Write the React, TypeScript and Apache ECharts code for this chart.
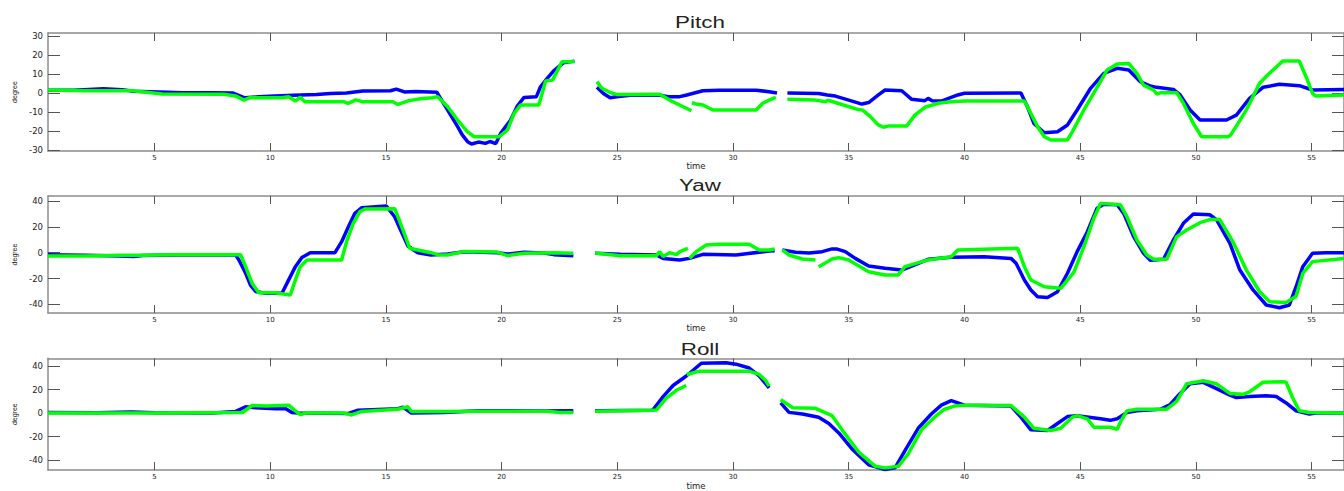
import { useEffect, useRef } from "react";
import * as echarts from "echarts";

type Pt = [number, number | null];

// Tick positions
const timeTicks = [5, 10, 15, 20, 25, 30, 35, 40, 45, 50, 55];
const pitchTicks = [-30, -20, -10, 0, 10, 20, 30];
const yawTicks = [-40, -20, 0, 20, 40];
const rollTicks = [-40, -20, 0, 20, 40];

const panelTitles = ["Pitch", "Yaw", "Roll"];
const timeRange: [number, number] = [0.4, 56.4];
const pitchRange: [number, number] = [-30.5, 31.6];
const yawRange: [number, number] = [-46.6, 43.8];
const rollRange: [number, number] = [-48.7, 46.8];

// Pitch angle (degree) over time, two sensors; null breaks the trace
const pitchBlue: Pt[] = [
  [0.4, 1.5], [1.5, 1.5], [2.8, 2.2], [3.6, 1.8], [4.1, 1], [5.2, 0.6], [6.2, 0.1], [7.5, 0.2], [8.4, 0],
  [8.9, -2.5], [9.5, -2], [10.2, -1.6], [11, -1.2], [12, -0.8], [12.6, -0.2], [13.3, 0], [14, 1.1],
  [15.2, 1.2], [15.45, 2.1], [15.8, 0.6], [16.3, 0.8], [17.2, 0.4], [17.67, -9], [18.1, -17.7],
  [18.3, -22], [18.53, -25.6], [18.7, -26.8], [19, -25.8], [19.3, -26.5], [19.5, -25.5], [19.75, -26.6],
  [19.96, -21.2], [20.39, -14.2], [20.68, -6.8], [20.97, -2.3], [21.5, -2], [21.68, 3.3], [21.97, 7.7],
  [22.25, 11.7], [22.68, 16], [23.15, 16.8], [23.5, null],
  [24.12, 3], [24.4, -0.2], [24.69, -2.5], [24.97, -1.9], [25.55, -1.2], [26.83, -1.1], [27.2, -1.9],
  [27.7, -1.9], [28.0, -1.0], [28.7, 1.2], [29.4, 1.5], [31, 1.5], [31.56, 0.7], [31.9, 0], [32.1, null],
  [32.35, 0], [33.7, -0.2], [34.07, -1], [34.42, -1.6], [35, -3.7], [35.57, -5.8], [35.86, -5],
  [36.28, -1], [36.57, 1.6], [37.29, 1.2], [37.72, -3.3], [38.29, -4], [38.43, -2.8], [38.6, -4],
  [39, -4.2], [39.71, -1], [40, -0.1], [42.44, 0], [42.72, -7.2], [43, -16], [43.45, -20.9],
  [44.02, -20.4], [44.45, -16.8], [44.87, -8.9], [45.45, 2.5], [46.02, 10.4], [46.6, 13], [47.1, 12.1],
  [47.6, 6], [48.03, 3.7], [48.31, 3], [49.03, 1.9], [49.32, -1], [49.75, -8.9], [50.18, -14.2],
  [51.32, -14.2], [51.75, -11.6], [52.32, -2.8], [52.9, 3], [53.61, 4.6], [54.47, 3.9], [55.04, 1.6],
  [56.4, 1.9],
];

const pitchGreen: Pt[] = [
  [0.4, 1.6], [2, 1.2], [4.06, 1.2], [5.35, -0.5], [8, -0.6], [8.5, -1.5], [8.87, -3.7], [9.1, -2.5],
  [10.5, -2.5], [10.8, -2], [11.09, -4.2], [11.3, -2.2], [11.5, -4.6], [13.2, -4.6], [13.37, -5.4],
  [13.7, -3.6], [14, -4.6], [15.3, -4.6], [15.52, -6], [16, -4], [16.5, -3], [17, -2.5], [17.24, -2],
  [17.67, -7.2], [18.1, -14.2], [18.53, -20.4], [18.82, -23], [19.89, -23], [20.25, -19.5],
  [20.54, -10.7], [20.82, -6.3], [21.61, -6.3], [21.9, 6.3], [22.2, 6.8], [22.61, 16.5], [23.15, 16.5],
  [23.5, null],
  [24.12, 6], [24.33, 2.5], [24.69, 0.3], [24.97, -0.7], [26.83, -0.6], [27.26, -3.7], [27.69, -6.3],
  [28.2, -9.3], [28.21, null], [28.22, -5.1], [28.41, -5.8], [28.7, -6.3], [29.13, -8.9], [31, -8.9],
  [31.28, -5.4], [31.56, -3.7], [31.85, -2.3], [32.1, null],
  [32.35, -3.3], [33.5, -3.6], [34.0, -4.6], [34.1, -3.8], [34.42, -5], [35.35, -8.5], [35.6, -9],
  [35.9, -12], [36.28, -16.8], [36.5, -18], [36.7, -17.4], [37.5, -17.4], [37.86, -11.6], [38.29, -7.5],
  [38.86, -5.4], [39.43, -4.6], [40, -4.2], [42.59, -4.2], [42.87, -10.7], [43.16, -17.7], [43.45, -23],
  [43.73, -24.7], [44.45, -24.7], [44.66, -20.4], [45.16, -8.9], [45.73, 3], [46.16, 12.1], [46.6, 15.3],
  [47.1, 15.6], [47.45, 10.4], [47.74, 4.2], [48.17, 1.6], [48.31, -0.5], [48.5, 0.2], [49.17, 0.2],
  [49.46, -5.4], [49.89, -16], [50.25, -23], [51.4, -23], [51.5, -22], [51.75, -17.4], [52.18, -8.9],
  [52.75, 5.1], [53.18, 10.4], [53.75, 16.8], [54.47, 16.8], [54.76, 8.6], [55.04, -0.2], [55.18, -1.6],
  [56.4, -1],
];

// Yaw angle (degree)
const yawBlue: Pt[] = [
  [0.4, -1.5], [2, -2], [3.5, -2.5], [4.1, -3], [4.5, -2.2], [6, -1.8], [7.5, -1.5], [8.51, -1.8],
  [8.65, -5.6], [8.94, -15.9], [9.15, -25], [9.37, -30], [9.8, -31.4], [10.51, -31.4], [10.8, -21],
  [11.09, -10.8], [11.37, -3.8], [11.73, 0], [12.8, 0], [13.09, 8.5], [13.38, 20], [13.66, 30.4],
  [13.95, 34.7], [15.02, 36], [15.38, 27.8], [15.67, 16.2], [15.95, 5.2], [16.38, 0], [16.95, -1.8],
  [17.67, -1], [18.39, 0.8], [19.82, 0], [20.25, -1], [20.97, 0.3], [21.83, -0.3], [22.25, -1.5],
  [23.1, -2.3], [23.5, null],
  [24.04, -0.5], [25.12, -1.2], [26.69, -1.8], [26.98, -4.4], [27.69, -5.6], [28.12, -4.4], [28.7, -1.3],
  [30.13, -1.8], [31.56, 1.3], [31.8, 1.5], [32.0, null],
  [32.13, 2.1], [32.7, 0.3], [33.28, -0.3], [33.85, 0.8], [34.28, 2.9], [34.5, 2.8], [34.85, 0.8],
  [35.28, -4.4], [35.86, -10.3], [36.57, -12.1], [37.29, -13.4], [37.72, -10.3], [38.43, -5.1],
  [39.43, -3.6], [40.85, -3.1], [42.01, -4.4], [42.23, -8.2], [42.59, -21.1], [42.87, -28.8],
  [43.16, -34], [43.59, -34.6], [44.02, -30.1], [44.45, -15.9], [44.87, 0.8], [45.31, 16.2],
  [45.73, 34.3], [46.02, 37.4], [46.6, 37], [46.88, 30.4], [47.31, 12.4], [47.74, -0.5], [48.03, -5.9],
  [48.6, -5.1], [49.03, 9.8], [49.46, 22.7], [49.89, 29.9], [50.6, 29.3], [50.89, 25.6], [51.47, 7.2],
  [51.9, -13.4], [52.47, -28.8], [53.04, -40.4], [53.61, -42.5], [54.04, -40.4], [54.33, -26.3],
  [54.62, -10.8], [55.04, -0.5], [55.61, 0], [56.4, 0],
];

const yawGreen: Pt[] = [
  [0.4, -2.5], [2, -2.5], [3.5, -2], [4.5, -2], [6, -1.5], [8.72, -1.5], [8.94, -10.8], [9.22, -23.7],
  [9.51, -30.9], [10.2, -31], [10.87, -32.7], [11.09, -21], [11.3, -10.8], [11.59, -5.6], [13.09, -5.6],
  [13.3, 8.5], [13.59, 22.7], [13.88, 31.7], [14.09, 33.7], [15.38, 34], [15.52, 27.8], [15.74, 17.5],
  [16.03, 3.4], [16.38, 2.1], [16.95, 0], [17.24, -1.5], [17.67, -1.8], [18.39, 1], [19.82, 0.5],
  [20.25, -2.3], [20.97, -0.5], [22.25, 0], [23.1, -0.5], [23.5, null],
  [24.04, -0.3], [25.12, -2.3], [26.69, -2.3], [26.83, 0.8], [26.98, -3], [27.26, 0], [27.55, -1.5],
  [27.7, 0.8], [28.05, 3.4], [28.08, null], [28.12, -4.4], [28.41, 0.8], [28.84, 5.9], [29.41, 6.6],
  [30.7, 6.6], [31.13, 2.1], [31.56, 2.1], [31.8, 2.8], [32.0, null],
  [32.13, 2.1], [32.42, -1.8], [33, -4.9], [33.56, -5.6], [33.62, null], [33.7, -10.8], [33.99, -7.9],
  [34.28, -4.9], [34.57, -3.8], [35, -5.6], [35.57, -11.7], [35.86, -14.7], [36.57, -17.2],
  [37.14, -17.2], [37.43, -10.8], [38.43, -5.6], [39.43, -3.1], [39.71, 2.1], [42.3, 3.4],
  [42.59, -10.8], [42.87, -21.1], [43.45, -26.3], [44.16, -27.5], [44.73, -15], [45.16, 4.6],
  [45.59, 26.6], [45.88, 38.1], [46.74, 37], [47.02, 27.8], [47.45, 9.8], [47.88, -1.8], [48.17, -5.1],
  [48.74, -5.1], [49.17, 12.4], [49.6, 17.5], [50.18, 23.2], [50.6, 25.6], [51.03, 25.6], [51.6, 8.5],
  [52.18, -13.4], [52.75, -30], [53.18, -37.8], [53.9, -38.4], [54.33, -33.7], [54.62, -15.9],
  [55.04, -6.9], [56.4, -4.4],
];

// Roll angle (degree)
const rollBlue: Pt[] = [
  [0.4, 0.5], [2.5, 0.3], [4, 1], [5, 0.3], [7.5, 0], [8.51, 1.4], [8.94, 5.4], [9.37, 4.6],
  [10.23, 3.8], [10.66, 4], [10.94, 0.5], [11.23, 0], [13.38, -0.3], [13.8, 2.4], [15.52, 3.8],
  [15.74, 5.1], [16.1, 0], [17.5, 0.5], [19, 1.9], [20, 2], [21.5, 1.8], [23.1, 1.9], [23.5, null],
  [24.04, 2], [26.48, 2.4], [26.55, 3], [26.98, 14.1], [27.41, 23.6], [27.98, 31.7], [28.3, 37],
  [28.63, 42.6], [29.7, 43], [30.13, 41.8], [30.7, 38.5], [31.13, 31.7], [31.56, 21.5], [31.8, null],
  [32.06, 8.7], [32.42, 0.6], [33, -0.8], [33.7, -3.5], [34.14, -8.9], [34.57, -17], [35.14, -30.6],
  [35.86, -44.1], [36.57, -48.2], [37, -46.8], [37.43, -32], [38, -13], [38.57, -0.8], [39, 6.8],
  [39.43, 10.6], [40, 6.8], [42.01, 6], [42.44, -3.5], [42.87, -14.3], [43.59, -14.9], [44.02, -8.9],
  [44.45, -3], [44.87, -2.2], [45.88, -4.9], [46.3, -6.2], [46.6, -4.9], [47.02, 0.5], [47.45, 1.9],
  [48.46, 3.3], [48.89, 7.3], [49.32, 16.8], [49.75, 25], [50.32, 26.3], [50.89, 20.9], [51.47, 15.4],
  [51.75, 13.3], [52.32, 14.1], [53.04, 14.9], [53.47, 14.1], [53.9, 8.7], [54.33, 1.9], [54.9, -0.8],
  [55.18, 0], [56.4, 0],
];

const rollGreen: Pt[] = [
  [0.4, 0], [2.5, 0], [5, 0], [8.8, 0.5], [9.22, 6.5], [9.8, 6], [10.8, 6.8], [11.09, 1.9],
  [11.3, -1.4], [11.52, 0], [13.2, 0], [13.52, -1.6], [13.95, 1.4], [15.52, 3.3], [15.95, 5.4],
  [16.1, 1.4], [17.67, 1.4], [19, 1.5], [20, 1.5], [22, 1.5], [22.5, 0.5], [23.1, 0.5], [23.5, null],
  [24.04, 1.5], [26.48, 2.4], [26.69, 2.7], [27.12, 12.8], [27.55, 19.5], [27.98, 23.6], [27.99, null],
  [28.0, 33], [28.55, 35.8], [30.7, 35.8], [31.13, 33], [31.4, 28], [31.56, 23], [31.8, null],
  [32.06, 11.4], [32.58, 4.6], [33.56, 4.1], [34.28, -2.2], [34.71, -14.3], [35.43, -33.3],
  [36.15, -45.5], [36.57, -46.8], [37.14, -45.5], [37.57, -34.9], [38.14, -14.3], [38.71, -3.5],
  [39.14, 3.3], [39.57, 6], [40, 6.8], [42.01, 6.5], [42.59, -3.5], [43, -13], [43.73, -14.9],
  [44.16, -13], [44.66, -3.5], [44.87, -2.2], [45.31, -4.9], [45.59, -12.1], [46.3, -12.1],
  [46.6, -13.8], [46.74, -7.6], [47.02, 1.9], [47.45, 3.3], [48.74, 3.3], [49.17, 10.1], [49.6, 25],
  [50.32, 27.6], [50.89, 25], [51.47, 16.8], [52.04, 16], [52.32, 18.2], [52.9, 26.3], [53.75, 26.8],
  [53.9, 26.3], [54.18, 13.1], [54.47, 2], [54.9, 0.5], [56.4, 0],
];

const BLUE = "#0000ff";
const GREEN = "#00ff00";

const panels = [
  { title: panelTitles[0], range: pitchRange, ticks: pitchTicks, blue: pitchBlue, green: pitchGreen, top: 33, height: 118, titleY: 22.7 },
  { title: panelTitles[1], range: yawRange, ticks: yawTicks, blue: yawBlue, green: yawGreen, top: 196, height: 117, titleY: 185 },
  { title: panelTitles[2], range: rollRange, ticks: rollTicks, blue: rollBlue, green: rollGreen, top: 358.3, height: 117.7, titleY: 349.3 },
];

const GRID_LEFT = 48;
const GRID_WIDTH = 1304;
const frameLine = { color: "#8c8c8c", width: 1.5 };
const tickLine = { color: "#555555", width: 1 };

function buildOption(): echarts.EChartsOption {
  const grid: any[] = [];
  const xAxis: any[] = [];
  const yAxis: any[] = [];
  const series: any[] = [];
  const graphic: any[] = [];

  panels.forEach((p, i) => {
    grid.push({ left: GRID_LEFT, top: p.top, width: GRID_WIDTH, height: p.height });

    const xBase = {
      type: "value",
      gridIndex: i,
      min: timeRange[0],
      max: timeRange[1],
      axisLine: { show: true, onZero: false, lineStyle: frameLine },
      axisTick: { show: true, inside: true, length: 8, customValues: timeTicks, lineStyle: tickLine },
      splitLine: { show: false },
    };
    xAxis.push({
      ...xBase,
      position: "bottom",
      axisLabel: { customValues: timeTicks, fontSize: 7, fontFamily: "DejaVu Sans", color: "#222", margin: 3 },
      name: "time",
      nameLocation: "middle",
      nameGap: 10,
      nameTextStyle: { fontSize: 8.5, fontFamily: "DejaVu Sans", color: "#222" },
    });
    xAxis.push({ ...xBase, position: "top", axisLabel: { show: false } });

    const yBase = {
      type: "value",
      gridIndex: i,
      min: p.range[0],
      max: p.range[1],
      axisLine: { show: true, onZero: false, lineStyle: frameLine },
      axisTick: { show: true, inside: true, length: 12, customValues: p.ticks, lineStyle: tickLine },
      splitLine: { show: false },
    };
    yAxis.push({
      ...yBase,
      position: "left",
      axisLabel: { customValues: p.ticks, fontSize: 8.5, fontFamily: "DejaVu Sans", color: "#222", margin: 5 },
      name: "degree",
      nameLocation: "middle",
      nameGap: 26,
      nameRotate: 90,
      nameTextStyle: { fontSize: 7, fontFamily: "Liberation Sans", color: "#222" },
    });
    yAxis.push({ ...yBase, position: "right", axisLabel: { show: false } });

    [
      { data: p.blue, color: BLUE },
      { data: p.green, color: GREEN },
    ].forEach((s) => {
      series.push({
        type: "line",
        xAxisIndex: i * 2,
        yAxisIndex: i * 2,
        data: s.data,
        showSymbol: false,
        symbol: "none",
        connectNulls: false,
        silent: true,
        lineStyle: { color: s.color, width: 3.5 },
        itemStyle: { color: s.color },
      });
    });

    graphic.push({
      type: "text",
      x: GRID_LEFT + GRID_WIDTH / 2,
      y: p.titleY,
      scaleX: 1.4,
      style: {
        text: p.title,
        fontSize: 16,
        fontFamily: "Liberation Sans",
        fill: "#222",
        textAlign: "center",
        textVerticalAlign: "middle",
      },
    });
  });

  return {
    animation: false,
    backgroundColor: "#ffffff",
    grid,
    xAxis,
    yAxis,
    series,
    graphic,
  };
}

export default function App() {
  const ref = useRef<HTMLDivElement>(null);

  useEffect(() => {
    if (!ref.current) return;
    const chart = echarts.init(ref.current, undefined, { renderer: "svg" });
    chart.setOption(buildOption());
    return () => chart.dispose();
  }, []);

  return (
    <div
      ref={ref}
      style={{ position: "absolute", left: 0, top: 0, width: 1344, height: 491, background: "#fff" }}
    />
  );
}
